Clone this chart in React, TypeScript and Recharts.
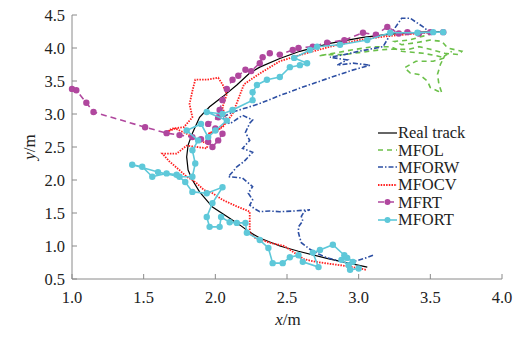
import { Scatter, ScatterChart, XAxis, YAxis } from 'recharts';

// trajectories, [x, y] in metres
const realTrack: [number, number][] = [
  [3.06, 0.68], [2.8, 0.8], [2.58, 0.92], [2.45, 1.0], [2.31, 1.12], [2.24, 1.21], [2.17, 1.32],
  [2.1, 1.42], [1.98, 1.59], [1.89, 1.82], [1.84, 2.0], [1.81, 2.15], [1.8, 2.35], [1.81, 2.53],
  [1.84, 2.71], [1.89, 2.95], [1.96, 3.11], [2.05, 3.26], [2.15, 3.44], [2.24, 3.62], [2.31, 3.71],
  [2.45, 3.84], [2.59, 3.95], [2.8, 4.07], [3.03, 4.16], [3.22, 4.21], [3.45, 4.24], [3.58, 4.25],
];

const mfol: [number, number][] = [
  [3.52, 4.22], [3.45, 4.18], [3.35, 4.12], [3.25, 4.1], [3.3, 4.05], [3.4, 4.08], [3.5, 4.12],
  [3.58, 4.1], [3.62, 4.0], [3.72, 3.95], [3.7, 3.9], [3.6, 3.92], [3.5, 3.98], [3.42, 4.02],
  [3.35, 3.98], [3.2, 3.98], [3.1, 3.96], [3.0, 3.93], [2.9, 3.9], [2.78, 3.9], [2.72, 3.88],
  [2.85, 3.93], [2.95, 3.97], [3.1, 4.02], [3.22, 4.02], [3.3, 3.95], [3.45, 3.92], [3.55, 3.88],
  [3.6, 3.85], [3.52, 3.8], [3.4, 3.8], [3.32, 3.7], [3.36, 3.62], [3.42, 3.6], [3.48, 3.5],
  [3.5, 3.4], [3.55, 3.35], [3.58, 3.32], [3.56, 3.45], [3.55, 3.6], [3.57, 3.75], [3.6, 3.88],
  [3.65, 3.95],
];

const mforw: [number, number][] = [
  [3.1, 0.86], [3.05, 0.82], [2.99, 0.78], [2.92, 0.74], [2.85, 0.78], [2.78, 0.82], [2.72, 0.88],
  [2.66, 0.95], [2.6, 1.05], [2.59, 1.12], [2.58, 1.2], [2.58, 1.29], [2.61, 1.38], [2.6, 1.45],
  [2.62, 1.52], [2.66, 1.55], [2.55, 1.53], [2.45, 1.52], [2.38, 1.53], [2.31, 1.52], [2.27, 1.57],
  [2.24, 1.62], [2.26, 1.7], [2.23, 1.8], [2.26, 1.9], [2.19, 2.03], [2.09, 2.05], [2.12, 2.12],
  [2.15, 2.2], [2.2, 2.28], [2.23, 2.35], [2.26, 2.42], [2.19, 2.48], [2.24, 2.6], [2.21, 2.72],
  [2.24, 2.86], [2.26, 2.91], [2.19, 2.98], [2.1, 2.85], [2.05, 2.95], [2.12, 3.03], [2.3, 3.15],
  [2.45, 3.28], [2.6, 3.4], [2.8, 3.55], [2.95, 3.66], [3.08, 3.74], [2.96, 3.77], [2.85, 3.74],
  [2.92, 3.82], [2.8, 3.86], [2.9, 3.9], [3.0, 3.95], [3.17, 4.02], [3.22, 4.2], [3.3, 4.45],
  [3.36, 4.45], [3.45, 4.32], [3.5, 4.23],
];

const mfocv: [number, number][] = [
  [3.05, 0.64], [2.98, 0.67], [2.9, 0.7], [2.8, 0.73], [2.7, 0.76], [2.62, 0.8], [2.55, 0.9],
  [2.48, 1.0], [2.38, 1.05], [2.28, 1.12], [2.24, 1.2], [2.24, 1.35], [2.24, 1.52], [2.15, 1.6],
  [2.05, 1.7], [1.98, 1.8], [1.92, 1.85], [1.87, 1.95], [1.84, 2.0], [1.8, 2.05], [1.75, 2.15],
  [1.68, 2.28], [1.63, 2.4], [1.73, 2.4], [1.8, 2.52], [1.94, 2.48], [1.95, 2.55], [1.88, 2.6],
  [1.8, 2.7], [1.72, 2.78], [1.65, 2.72], [1.7, 2.78], [1.78, 2.8], [1.84, 2.95], [1.82, 3.15],
  [1.84, 3.35], [1.86, 3.52], [1.94, 3.52], [2.02, 3.55], [2.05, 3.45], [2.08, 3.3], [2.05, 3.1],
  [2.08, 2.9], [2.02, 2.75], [1.95, 2.7], [2.05, 2.8], [2.12, 3.0], [2.2, 3.45], [2.3, 3.6],
  [2.45, 3.8], [2.6, 3.9], [2.8, 4.02], [3.0, 4.12], [3.2, 4.18], [3.4, 4.22], [3.55, 4.24],
];

const mfrt: [number, number][] = [
  [1.0, 3.38], [1.03, 3.36], [1.1, 3.17], [1.15, 3.03], [1.51, 2.8], [1.66, 2.71], [1.75, 2.68],
  [1.84, 2.65], [1.9, 2.62], [1.95, 2.58], [1.98, 2.5], [2.02, 2.6], [2.05, 2.7], [2.0, 2.78],
  [1.95, 2.85], [2.02, 2.95], [2.03, 3.06], [2.05, 3.21], [2.08, 3.38], [2.12, 3.52], [2.16, 3.58],
  [2.21, 3.67], [2.25, 3.65], [2.31, 3.77], [2.33, 3.86], [2.38, 3.92], [2.45, 3.9], [2.54, 3.97],
  [2.58, 4.0], [2.68, 4.02], [2.78, 4.08], [2.9, 4.12], [3.03, 4.23], [3.12, 4.2], [3.2, 4.32],
  [3.28, 4.22], [3.34, 4.24], [3.42, 4.22], [3.5, 4.24], [3.59, 4.24],
];

const mfort: [number, number][] = [
  [3.0, 0.66], [2.94, 0.64], [2.93, 0.71], [2.88, 0.79], [2.92, 0.82], [2.96, 0.76], [2.9, 0.86],
  [2.82, 1.02], [2.73, 0.94], [2.68, 0.9], [2.72, 0.68], [2.61, 0.76], [2.58, 0.86], [2.52, 0.83],
  [2.47, 0.74], [2.4, 0.74], [2.37, 0.97], [2.31, 1.09], [2.22, 1.2], [2.21, 1.35], [2.15, 1.35],
  [2.1, 1.36], [2.04, 1.44], [2.03, 1.29], [1.96, 1.29], [1.94, 1.44], [1.98, 1.65], [2.05, 1.89],
  [1.94, 1.8], [1.84, 1.82], [1.79, 1.97], [1.73, 2.08], [1.66, 2.1], [1.56, 2.05], [1.49, 2.2],
  [1.42, 2.23], [1.6, 2.12], [1.75, 2.05], [1.84, 2.05], [1.86, 2.25], [1.84, 2.45], [1.88, 2.6],
  [1.8, 2.75], [1.9, 2.85], [1.95, 2.65], [2.0, 2.75], [2.08, 2.9], [1.94, 3.03], [2.05, 3.0],
  [2.12, 3.06], [2.26, 3.21], [2.26, 3.33], [2.29, 3.44], [2.36, 3.52], [2.45, 3.56], [2.52, 3.71],
  [2.59, 3.74], [2.64, 3.77], [2.55, 3.85], [2.66, 3.97], [2.71, 4.02], [2.87, 4.05], [3.06, 4.12],
  [3.22, 4.23], [3.41, 4.23], [3.52, 4.24], [3.59, 4.24],
];

const xTicks = [1.0, 1.5, 2.0, 2.5, 3.0, 3.5, 4.0];
const yTicks = [0.5, 1.0, 1.5, 2.0, 2.5, 3.0, 3.5, 4.0, 4.5];

const FONT = 'Liberation Serif';
const AXIS = '#8a8a8a';
const INK = '#222';

const toPts = (arr: [number, number][]) => arr.map(([x, y]) => ({ x, y }));

const series = [
  { name: 'Real track', data: realTrack, color: '#000000', dash: undefined, width: 1.2, dot: false },
  { name: 'MFOL', data: mfol, color: '#6cc04a', dash: '5 4', width: 1.6, dot: false },
  { name: 'MFORW', data: mforw, color: '#2d4fa3', dash: '5 2 1.5 2', width: 1.6, dot: false },
  { name: 'MFOCV', data: mfocv, color: '#ff2020', dash: '1.5 1.2', width: 1.8, dot: false },
  { name: 'MFRT', data: mfrt, color: '#b0479e', dash: '6 4', width: 1.6, dot: true },
  { name: 'MFORT', data: mfort, color: '#5ec8d9', dash: undefined, width: 1.6, dot: true },
];

// eslint-disable-next-line @typescript-eslint/no-explicit-any
function XTick(props: any) {
  const { x, y, payload } = props;
  return (
    <g>
      <line x1={x} x2={x} y1={y} y2={y - 5} stroke={AXIS} />
      <text x={x} y={y + 24} textAnchor="middle" fontSize={16.5} fill={INK} style={{ fontFamily: FONT }}>
        {Number(payload.value).toFixed(1)}
      </text>
    </g>
  );
}

// eslint-disable-next-line @typescript-eslint/no-explicit-any
function YTick(props: any) {
  const { x, y, payload } = props;
  return (
    <g>
      <line x1={x} x2={x + 5} y1={y} y2={y} stroke={AXIS} />
      <text x={x - 7} y={y + 5.5} textAnchor="end" fontSize={16.5} fill={INK} style={{ fontFamily: FONT }}>
        {Number(payload.value).toFixed(1)}
      </text>
    </g>
  );
}

export default function App() {
  return (
    <div style={{ position: 'absolute', left: 0, top: 0, width: 527, height: 337, background: '#fff', fontFamily: FONT }}>
      <ScatterChart width={527} height={337} margin={{ top: 15, right: 25, bottom: 18, left: 32 }}>
        <XAxis
          type="number"
          dataKey="x"
          domain={[1, 4]}
          ticks={xTicks}
          interval={0}
          height={40}
          tickSize={0}
          tickMargin={0}
          tickLine={false}
          axisLine={{ stroke: AXIS }}
          tick={<XTick />}
        />
        <YAxis
          type="number"
          dataKey="y"
          domain={[0.5, 4.5]}
          ticks={yTicks}
          interval={0}
          width={40}
          tickSize={0}
          tickMargin={0}
          tickLine={false}
          axisLine={{ stroke: AXIS }}
          tick={<YTick />}
        />
        {series.map((s) => (
          <Scatter
            key={s.name}
            name={s.name}
            data={toPts(s.data)}
            fill={s.color}
            line={{ stroke: s.color, strokeWidth: s.width, strokeDasharray: s.dash }}
            lineType="joint"
            isAnimationActive={false}
            // eslint-disable-next-line @typescript-eslint/no-explicit-any
            shape={(p: any) =>
              s.dot ? <circle cx={p.cx} cy={p.cy} r={3.2} fill={s.color} /> : <g />
            }
          />
        ))}
      </ScatterChart>

      {/* axis titles */}
      <div
        style={{
          position: 'absolute', left: 266, top: 311, width: 44, textAlign: 'center',
          fontSize: 17, lineHeight: '18px', color: INK,
        }}
      >
        <i>x</i>/m
      </div>
      <div
        style={{
          position: 'absolute', left: 8, top: 138, width: 44, textAlign: 'center',
          fontSize: 17, lineHeight: '18px', color: INK, transform: 'rotate(-90deg)',
        }}
      >
        <i>y</i>/m
      </div>

      {/* legend */}
      <div style={{ position: 'absolute', left: 378, top: 124, fontSize: 16.5, color: INK }}>
        {series.map((s) => (
          <div key={s.name} style={{ display: 'flex', alignItems: 'center', height: 17.4 }}>
            <svg width={19} height={10} style={{ marginRight: 1 }}>
              <line x1={0} x2={19} y1={5} y2={5} stroke={s.color} strokeWidth={s.width} strokeDasharray={s.dash} />
              {s.dot && <circle cx={9.5} cy={5} r={3} fill={s.color} />}
            </svg>
            <span style={{ lineHeight: '17px' }}>{s.name}</span>
          </div>
        ))}
      </div>
    </div>
  );
}
